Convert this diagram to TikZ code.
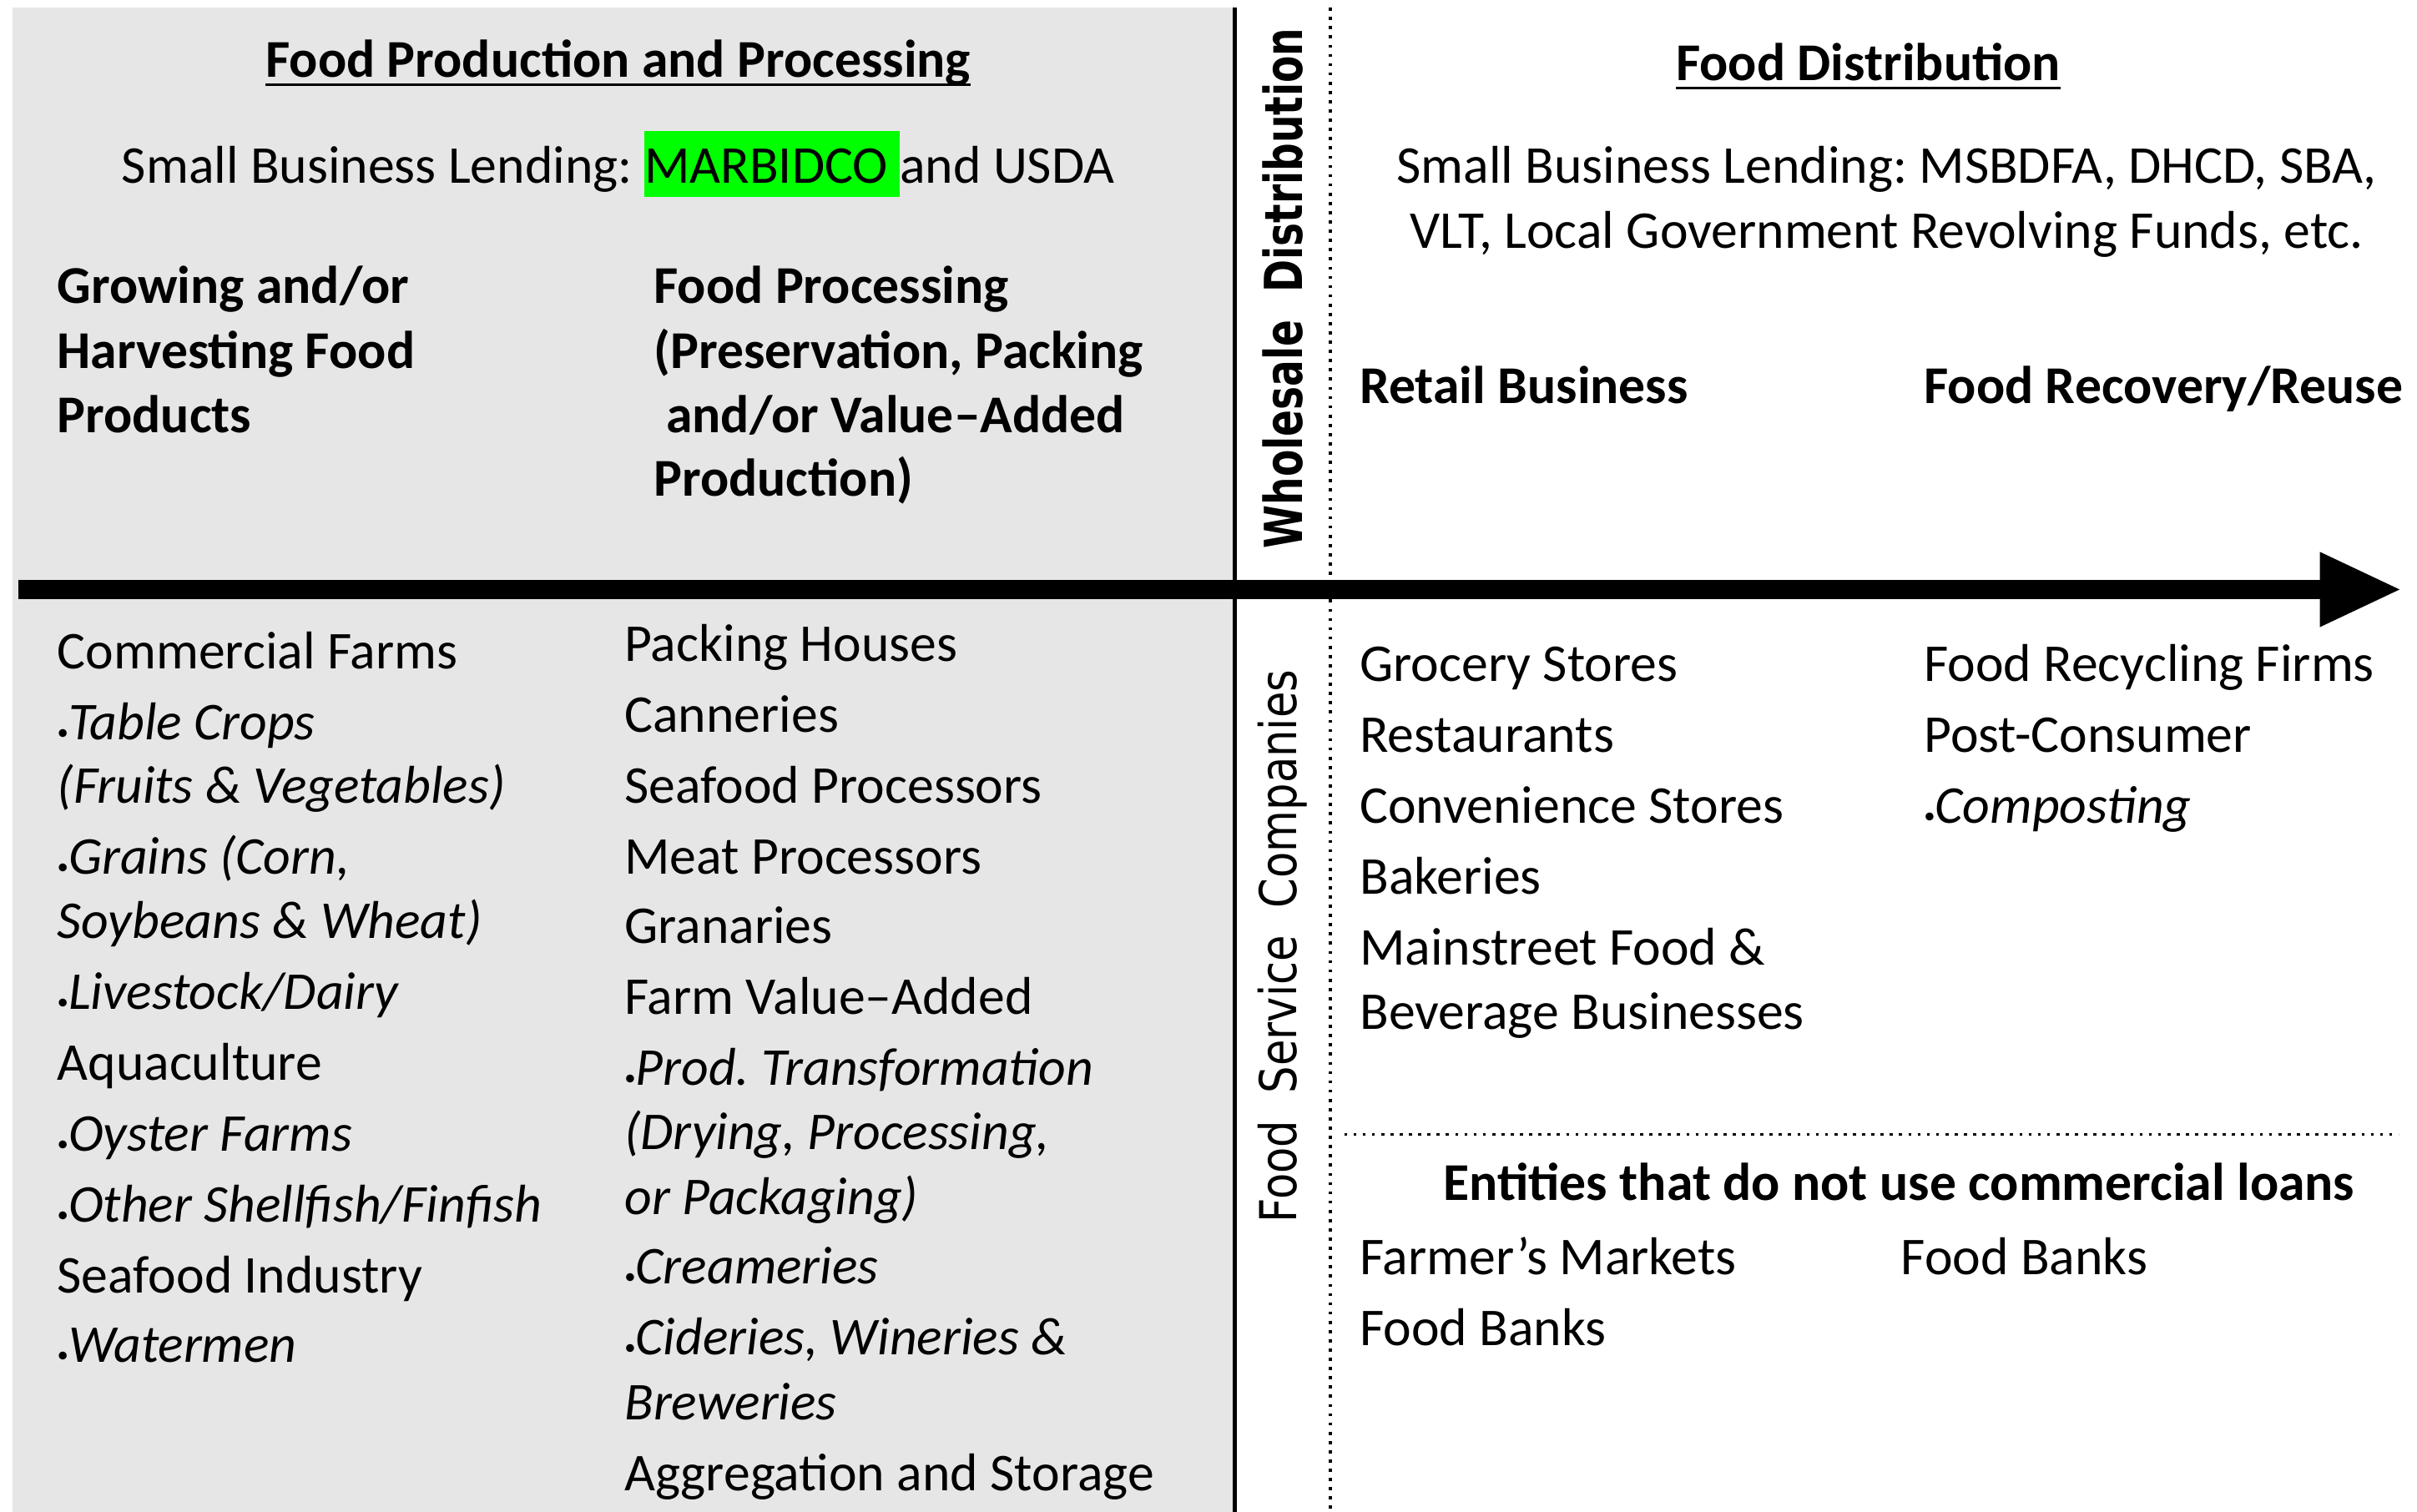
\documentclass[tikz,border=0pt]{standalone}
\usepackage{fontspec}
\setmainfont{Carlito}
\newfontfamily\sidefont{DejaVu Sans}
\usetikzlibrary{arrows.meta}
\frenchspacing
\definecolor{panelgray}{RGB}{230,230,230}
\definecolor{marker}{RGB}{0,255,0}
\newcommand{\itemdot}{\scalebox{0.42}{\textbullet}}
\newcommand{\hilite}[1]{{\setlength{\fboxsep}{0pt}\colorbox{marker}{\vrule height 34pt depth 9pt width 0pt #1}}}
\tikzset{
  txt/.style={anchor=base west, inner sep=0pt, font=\fontsize{34.5}{42}\selectfont},
  ctxt/.style={txt, anchor=base},
  head/.style={txt, font=\fontsize{34.5}{42}\selectfont\bfseries},
  chead/.style={head, anchor=base},
  flow/.style={line width=12pt, -{Triangle[length=53pt,width=45pt]}},
  dots/.style={line width=2pt, dash pattern=on 2pt off 4pt},
}
\begin{document}
\begin{tikzpicture}[x=1pt, y=-1pt]
  \useasboundingbox (0,0) rectangle (1568,981);
  % production panel background and dividers
  \fill[panelgray] (8,5) rectangle (800,981);
  \draw[line width=3pt] (801,5) -- (801,981);
  \draw[dots] (863,5) -- (863,981);
  \draw[dots] (872,736) -- (1556,736);
  % main flow arrow
  \coordinate (flowstart) at (12,382.5);
  \coordinate (flowend) at (1558,382.5);
  \draw[flow] (flowstart) -- (flowend);

  % Food production and processing
  \node[chead] (prodtitle) at (401,50) {Food Production and Processing};
  \draw[line width=1.6pt] ([yshift=-5pt]prodtitle.base west) -- ([yshift=-5pt]prodtitle.base east);
  \node[ctxt] (prodlend) at (401,119) {Small Business Lending: \hilite{MARBIDCO }and USDA};
  \node[head] (growhead1) at (37,197) {Growing and/or};
  \node[head] (growhead2) at (37,239) {Harvesting Food};
  \node[head] (growhead3) at (37,281) {Products};
  \node[head] (prochead1) at (424,197) {Food Processing};
  \node[head] (prochead2) at (424,239) {(Preservation, Packing};
  \node[head] (prochead3) at (432,281) {and/or Value–Added};
  \node[head] (prochead4) at (424,322) {Production)};
  % growing and harvesting entries
  \foreach \y/\entry [count=\i] in {
      434/Commercial Farms,
      480/{\itemdot\textit{Table Crops}},
      521/{\textit{(Fruits \& Vegetables)}},
      567/{\itemdot\textit{Grains (Corn,}},
      609/{\textit{Soybeans \& Wheat)}},
      655/{\itemdot\textit{Livestock/Dairy}},
      701/Aquaculture,
      747/{\itemdot\textit{Oyster Farms}},
      793/{\itemdot\textit{Other Shellfish/Finfish}},
      839/Seafood Industry,
      884/{\itemdot\textit{Watermen}}}
    \node[txt] (grow\i) at (37,\y) {\entry};
  % processing entries
  \foreach \y/\entry [count=\i] in {
      429/Packing Houses,
      475/Canneries,
      521/Seafood Processors,
      567/Meat Processors,
      612/Granaries,
      658/Farm Value–Added,
      704/{\itemdot\textit{Prod. Transformation}},
      746/{\textit{(Drying, Processing,}},
      788/{\textit{or Packaging)}},
      833/{\itemdot\textit{Creameries}},
      879/{\itemdot\textit{Cideries, Wineries \&}},
      921/{\textit{Breweries}},
      967/Aggregation and Storage}
    \node[txt] (proc\i) at (405,\y) {\entry};

  % side labels
  \node[rotate=90, inner sep=0pt] (wholesale) at (832,187)
    {\sidefont\bfseries\fontsize{34}{40}\selectfont\scalebox{0.75}[1]{Wholesale\ \ Distribution}};
  \node[rotate=90, inner sep=0pt] (foodservice) at (832,614)
    {\sidefont\fontsize{33}{40}\selectfont\scalebox{0.84}[1]{Food\ \ Service\ \ Companies}};

  % Food distribution
  \node[chead] (disttitle) at (1212,52) {Food Distribution};
  \draw[line width=1.6pt] ([yshift=-5pt]disttitle.base west) -- ([yshift=-5pt]disttitle.base east);
  \node[ctxt] (distlend1) at (1224,119) {Small Business Lending: MSBDFA, DHCD, SBA,};
  \node[ctxt] (distlend2) at (1224,161) {VLT, Local Government Revolving Funds, etc.};
  \node[head] (retailhead) at (882,262) {Retail Business};
  \node[head] (recoverhead) at (1248,262) {Food Recovery/Reuse};
  % retail entries
  \foreach \y/\entry [count=\i] in {
      442/Grocery Stores,
      488/Restaurants,
      534/Convenience Stores,
      580/Bakeries,
      626/Mainstreet Food \&,
      668/Beverage Businesses}
    \node[txt] (retail\i) at (882,\y) {\entry};
  % recovery entries
  \foreach \y/\entry [count=\i] in {
      442/Food Recycling Firms,
      488/Post-Consumer,
      534/{\itemdot\textit{Composting}}}
    \node[txt] (recover\i) at (1248,\y) {\entry};
  % non-commercial entities
  \node[chead] (noloans) at (1232,779) {Entities that do not use commercial loans};
  \node[txt] (market) at (882,827) {Farmer’s Markets};
  \node[txt] (bank1) at (1233,827) {Food Banks};
  \node[txt] (bank2) at (882,873) {Food Banks};
\end{tikzpicture}
\end{document}
